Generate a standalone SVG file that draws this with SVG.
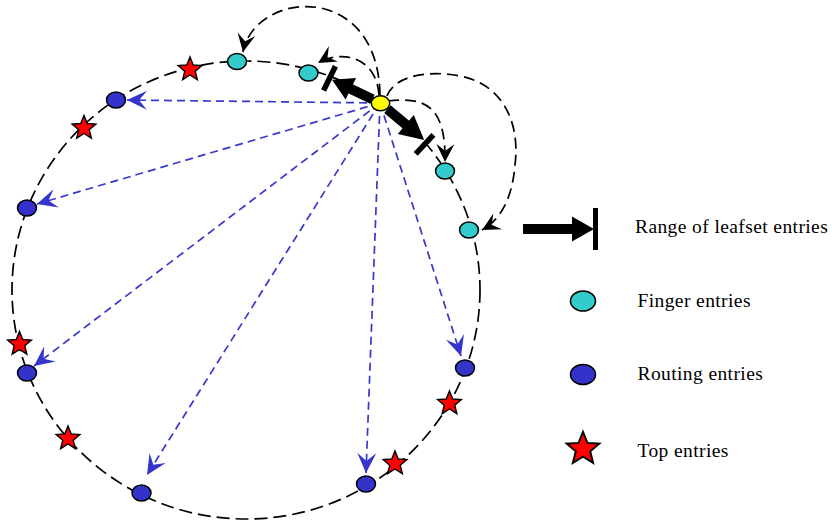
<svg xmlns="http://www.w3.org/2000/svg" xmlns:xlink="http://www.w3.org/1999/xlink" width="832" height="520" viewBox="0 0 832 520">
<style>
.ring{fill:none;stroke:#000;stroke-width:1.7;stroke-dasharray:13 6}
.blue{fill:none;stroke:#3838cc;stroke-width:1.7;stroke-dasharray:8 5;marker-end:url(#ab)}
.curve{fill:none;stroke:#000;stroke-width:1.7;stroke-dasharray:11 6;marker-end:url(#ak)}
.finger{fill:#33cccc;stroke:#000;stroke-width:1.5}
.routing{fill:#3333cc;stroke:#000;stroke-width:1.5}
.self{fill:#ffff00;stroke:#000;stroke-width:1.5}
.top{fill:#ff0000;stroke:#000;stroke-width:1.4;stroke-linejoin:miter}
.leaf{fill:#000}
.lbl{font-family:"Liberation Serif","Times New Roman",serif;font-size:19.5px;letter-spacing:0.4px;fill:#000}
</style>
<defs>
<marker id="ab" markerUnits="userSpaceOnUse" orient="auto" overflow="visible" markerWidth="1" markerHeight="1" refX="0" refY="0">
<path d="M0,0 L-20,-9.5 L-12,0 L-20,9.5 Z" fill="#3535cc"/>
</marker>
<marker id="ak" markerUnits="userSpaceOnUse" orient="auto" overflow="visible" markerWidth="1" markerHeight="1" refX="0" refY="0">
<path d="M0,0 L-18,-9 L-11,0 L-18,9 Z" fill="#000"/>
</marker>
<path id="star" d="M0,-12.5 L3.23,-4.45 L11.89,-3.86 L5.23,1.7 L7.35,10.11 L0,5.5 L-7.35,10.11 L-5.23,1.7 L-11.89,-3.86 L-3.23,-4.45 Z"/>
</defs>
<rect width="832" height="520" fill="#fff"/>
<g id="ring">
<ellipse class="ring" cx="246" cy="290" rx="234" ry="229"/>
</g>
<g id="connectors">
<path class="blue" d="M380,103 L127,100"/>
<path class="blue" d="M380,103 L37,204"/>
<path class="blue" d="M380,103 L34,366"/>
<path class="blue" d="M380,103 L147,475"/>
<path class="blue" d="M380,103 L366,473"/>
<path class="blue" d="M380,103 L461,356"/>
<path class="curve" d="M380,95 C378,-20 255,-10 243,52"/>
<path class="curve" d="M379,95 C376,55 340,50 318,63"/>
<path class="curve" d="M388,101 C425,97 446,105 445,162"/>
<path class="curve" d="M387,96 C395,75 430,70 460,76 C505,85 520,125 515,165 C512,200 500,220 482,230"/>
<g class="leaf" transform="translate(380.5,103.3) rotate(206)">
<rect x="9" y="-5" width="25" height="10"/>
<polygon points="33,-12 54,0 33,12"/>
<rect x="54" y="-13.5" width="5.5" height="27"/>
</g>
<g class="leaf" transform="translate(380.5,103.3) rotate(40)">
<rect x="9" y="-5" width="25" height="10"/>
<polygon points="33,-12.5 57,0 33,12.5"/>
<rect x="57.5" y="-13" width="5.5" height="26" transform="rotate(3)"/>
</g>
</g>
<g id="finger-1"><ellipse class="finger" cx="237" cy="61.5" rx="9.5" ry="8"/></g>
<g id="finger-2"><ellipse class="finger" cx="308.5" cy="73" rx="9.5" ry="8"/></g>
<g id="finger-3"><ellipse class="finger" cx="445" cy="171" rx="9.5" ry="8"/></g>
<g id="finger-4"><ellipse class="finger" cx="469" cy="230" rx="9.5" ry="8"/></g>
<g id="self"><ellipse class="self" cx="380.5" cy="103.3" rx="9.2" ry="7.5"/></g>
<g id="routing-1"><ellipse class="routing" cx="116" cy="100" rx="9.5" ry="8"/></g>
<g id="routing-2"><ellipse class="routing" cx="27" cy="208" rx="9.5" ry="8"/></g>
<g id="routing-3"><ellipse class="routing" cx="27" cy="373" rx="9.5" ry="8"/></g>
<g id="routing-4"><ellipse class="routing" cx="141.5" cy="493" rx="9.5" ry="8"/></g>
<g id="routing-5"><ellipse class="routing" cx="366" cy="484" rx="9.5" ry="8"/></g>
<g id="routing-6"><ellipse class="routing" cx="465" cy="368" rx="9.5" ry="8"/></g>
<g id="top-1"><use class="top" xlink:href="#star" href="#star" transform="translate(190,69.5)"/></g>
<g id="top-2"><use class="top" xlink:href="#star" href="#star" transform="translate(84,128)"/></g>
<g id="top-3"><use class="top" xlink:href="#star" href="#star" transform="translate(19.5,344)"/></g>
<g id="top-4"><use class="top" xlink:href="#star" href="#star" transform="translate(68,438.5)"/></g>
<g id="top-5"><use class="top" xlink:href="#star" href="#star" transform="translate(449.5,403.5)"/></g>
<g id="top-6"><use class="top" xlink:href="#star" href="#star" transform="translate(395,463.5)"/></g>
<g id="legend">
<g id="legend-leafset">
<rect class="leaf" x="523" y="224" width="50" height="10"/>
<polygon class="leaf" points="572,216.5 594,229 572,241.5"/>
<rect class="leaf" x="593" y="208" width="5" height="42"/>
<text class="lbl" x="635" y="233">Range of leafset entries</text>
</g>
<g id="legend-finger">
<ellipse class="finger" cx="583" cy="301" rx="12.5" ry="10"/>
<text class="lbl" x="637.5" y="307">Finger entries</text>
</g>
<g id="legend-routing">
<ellipse class="routing" cx="583" cy="374.5" rx="12.5" ry="10"/>
<text class="lbl" x="637.5" y="380">Routing entries</text>
</g>
<g id="legend-top">
<use class="top" xlink:href="#star" href="#star" transform="translate(583,449) scale(1.38)"/>
<text class="lbl" x="637.5" y="456.5">Top entries</text>
</g>
</g>
</svg>
